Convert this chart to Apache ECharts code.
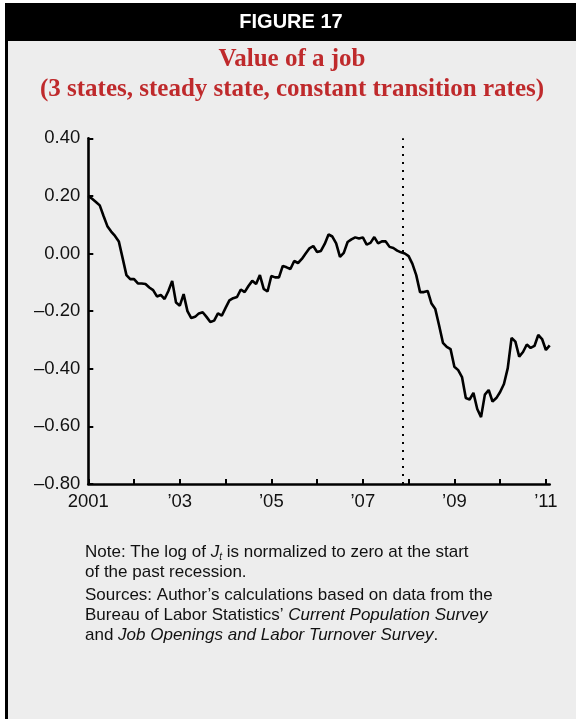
<!DOCTYPE html>
<html><head><meta charset="utf-8">
<script src="https://cdn.jsdelivr.net/npm/echarts@6/dist/echarts.min.js"></script>
<style>html,body{margin:0;padding:0;background:#fff}#c{width:576px;height:719px}</style>
</head><body><div id="c"></div>
<script>
// Monthly values, Jan of each year onward (log of J_t, normalized)
const years = [2001, 2002, 2003, 2004, 2005, 2006, 2007, 2008, 2009, 2010, 2011];
const v2001 = [0.200, 0.190, 0.179, 0.167, 0.130, 0.095, 0.076, 0.061, 0.042, -0.016, -0.075, -0.089];
const v2002 = [-0.089, -0.104, -0.104, -0.106, -0.118, -0.127, -0.149, -0.144, -0.158, -0.130, -0.095, -0.170];
const v2003 = [-0.181, -0.141, -0.200, -0.224, -0.220, -0.208, -0.204, -0.220, -0.238, -0.233, -0.208, -0.216];
const v2004 = [-0.189, -0.163, -0.155, -0.151, -0.125, -0.134, -0.113, -0.095, -0.106, -0.075, -0.123, -0.132];
const v2005 = [-0.078, -0.083, -0.083, -0.043, -0.048, -0.054, -0.026, -0.033, -0.019, 0.000, 0.018, 0.026];
const v2006 = [0.005, 0.009, 0.033, 0.066, 0.059, 0.035, -0.012, 0.002, 0.040, 0.049, 0.056, 0.052];
const v2007 = [0.056, 0.031, 0.037, 0.057, 0.035, 0.042, 0.042, 0.023, 0.019, 0.010, 0.004, 0.000];
const v2008 = [-0.009, -0.036, -0.075, -0.134, -0.134, -0.130, -0.174, -0.193, -0.250, -0.310, -0.324, -0.332];
const v2009 = [-0.393, -0.405, -0.429, -0.502, -0.507, -0.484, -0.540, -0.568, -0.490, -0.474, -0.514, -0.502];
const v2010 = [-0.481, -0.453, -0.398, -0.293, -0.306, -0.358, -0.342, -0.316, -0.328, -0.321, -0.283, -0.297];
const v2011 = [-0.335, -0.319];
const yearValues = [v2001, v2002, v2003, v2004, v2005, v2006, v2007, v2008, v2009, v2010, v2011];

const recessionStart = 2007.875;
const xTickYears = [2001, 2002, 2003, 2004, 2005, 2006, 2007, 2008, 2009, 2010, 2011];
const xLabelYears = [2001, 2003, 2005, 2007, 2009, 2011];
const xLabelText = ['2001', '\u201903', '\u201905', '\u201907', '\u201909', '\u201911'];

const data = [];
yearValues.forEach((arr, yi) => arr.forEach((v, m) => data.push([years[yi] + m / 12, v])));

const SANS = 'Liberation Sans, Arial, Helvetica, sans-serif';
const SERIF = 'Liberation Serif, Times New Roman, serif';
const RED = '#bf2a2c';
const TXT = '#111';

const chart = echarts.init(document.getElementById('c'), null, {renderer: 'canvas'});
chart.setOption({
  animation: false,
  backgroundColor: '#ededed',
  grid: {left: 88.3, right: 26.3, top: 138.3, bottom: 235.1, containLabel: false, outerBoundsMode: 'none'},
  xAxis: {
    type: 'value', min: 2001, max: 2011 + 1 / 12,
    axisLine: {show: true, onZero: false, lineStyle: {color: '#000', width: 2.6}},
    axisTick: {show: true, inside: true, length: 5, lineStyle: {color: '#000', width: 2}, customValues: xTickYears},
    axisLabel: {
      customValues: xLabelYears, margin: 9, color: TXT, fontSize: 18.5, fontFamily: SANS,
      formatter: v => { const i = xLabelYears.indexOf(Math.round(v)); return (i >= 0 && Math.abs(v - Math.round(v)) < 0.01) ? xLabelText[i] : ''; }
    },
    splitLine: {show: false}
  },
  yAxis: {
    type: 'value', min: -0.8, max: 0.4, interval: 0.2,
    axisLine: {show: true, onZero: false, lineStyle: {color: '#000', width: 2.6}},
    axisTick: {show: true, inside: true, length: 5, lineStyle: {color: '#000', width: 2}},
    axisLabel: {
      margin: 8, color: TXT, fontSize: 18.5, fontFamily: SANS,
      formatter: v => (Math.abs(v) < 1e-9 ? 0 : v).toFixed(2).replace('-', '\u2013')
    },
    splitLine: {show: false}
  },
  series: [{
    type: 'line', data: data, showSymbol: false, symbol: 'none',
    lineStyle: {color: '#000', width: 2.6}, z: 3,
    markLine: {
      silent: true, symbol: 'none', label: {show: false},
      lineStyle: {color: '#000', width: 2, type: [2, 6]},
      data: [{xAxis: recessionStart}]
    }
  }],
  graphic: [
    {type: 'rect', shape: {x: 0, y: 0, width: 576, height: 3}, style: {fill: '#fff'}},
    {type: 'rect', shape: {x: 0, y: 0, width: 5, height: 719}, style: {fill: '#fff'}},
    {type: 'rect', shape: {x: 5, y: 3, width: 3, height: 716}, style: {fill: '#000'}},
    {type: 'rect', shape: {x: 5, y: 3, width: 571, height: 38}, style: {fill: '#000'}},
    {type: 'text', x: 291, y: 22, style: {text: 'FIGURE 17', fill: '#fff', font: 'bold 20px ' + SANS, align: 'center', verticalAlign: 'middle'}},
    {type: 'text', x: 292, y: 60, style: {text: 'Value of a job', fill: RED, font: 'bold 25px ' + SERIF, align: 'center', verticalAlign: 'middle'}},
    {type: 'text', x: 292, y: 90, style: {text: '(3 states, steady state, constant transition rates)', fill: RED, font: 'bold 25px ' + SERIF, align: 'center', verticalAlign: 'middle'}},
    {type: 'text', x: 85, y: 552, style: {
      text: 'Note: The log of {i|J}{s|t} is normalized to zero at the start',
      fill: TXT, fontSize: 17, fontFamily: SANS, lineHeight: 20, align: 'left', verticalAlign: 'middle',
      rich: {i: {fontStyle: 'italic', fontSize: 17, fontFamily: SANS, lineHeight: 20},
             s: {fontStyle: 'italic', fontSize: 10, fontFamily: SANS, lineHeight: 6, verticalAlign: 'bottom'}}
    }},
    {type: 'text', x: 85, y: 572, style: {text: 'of the past recession.', fill: TXT, fontSize: 17, fontFamily: SANS, align: 'left', verticalAlign: 'middle'}},
    {type: 'text', x: 85, y: 595, style: {text: 'Sources: Author\u2019s calculations based on data from the', fill: TXT, fontSize: 17, fontFamily: SANS, align: 'left', verticalAlign: 'middle'}},
    {type: 'text', x: 85, y: 615, style: {
      text: 'Bureau of Labor Statistics\u2019 {i|Current Population Survey}',
      fill: TXT, fontSize: 17, fontFamily: SANS, lineHeight: 20, align: 'left', verticalAlign: 'middle',
      rich: {i: {fontStyle: 'italic', fontSize: 17, fontFamily: SANS, lineHeight: 20}}
    }},
    {type: 'text', x: 85, y: 635, style: {
      text: 'and {i|Job Openings and Labor Turnover Survey}.',
      fill: TXT, fontSize: 17, fontFamily: SANS, lineHeight: 20, align: 'left', verticalAlign: 'middle',
      rich: {i: {fontStyle: 'italic', fontSize: 17, fontFamily: SANS, lineHeight: 20}}
    }}
  ]
});
</script></body></html>
